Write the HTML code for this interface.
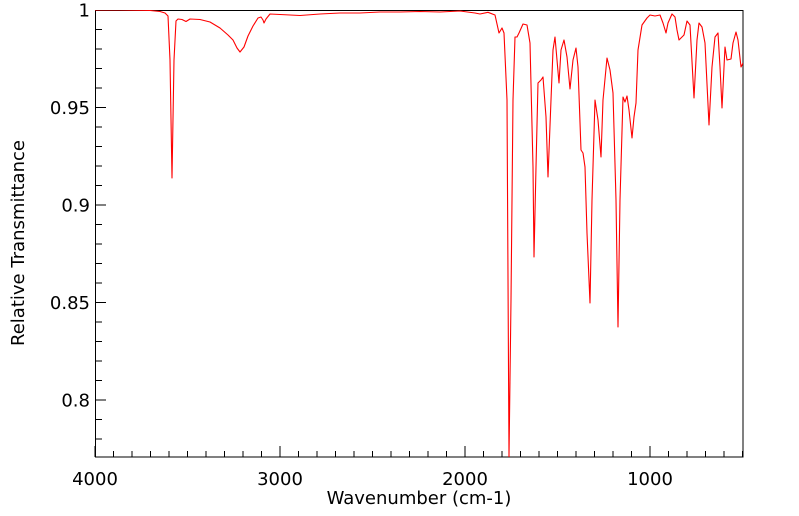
<!DOCTYPE html>
<html><head><meta charset="utf-8"><style>
html,body{margin:0;padding:0;background:#fff;}
svg{display:block;font-family:"DejaVu Sans","Liberation Sans",sans-serif;}
</style></head><body>
<svg width="799" height="516" viewBox="0 0 799 516" xmlns="http://www.w3.org/2000/svg">
<defs><clipPath id="c"><rect x="95" y="10" width="648" height="447"/></clipPath></defs>
<rect x="95.5" y="10.5" width="647.5" height="446.5" fill="none" stroke="#000" stroke-width="1"/>
<g stroke="#000" stroke-width="1">
<line x1="95" y1="29.5" x2="102" y2="29.5"/><line x1="95" y1="49" x2="102" y2="49"/><line x1="95" y1="68.5" x2="102" y2="68.5"/><line x1="95" y1="88" x2="102" y2="88"/>
<line x1="95" y1="107.5" x2="106" y2="107.5"/>
<line x1="95" y1="127" x2="102" y2="127"/><line x1="95" y1="146.5" x2="102" y2="146.5"/><line x1="95" y1="166" x2="102" y2="166"/><line x1="95" y1="185.5" x2="102" y2="185.5"/>
<line x1="95" y1="205" x2="106" y2="205"/>
<line x1="95" y1="224.5" x2="102" y2="224.5"/><line x1="95" y1="244" x2="102" y2="244"/><line x1="95" y1="263.5" x2="102" y2="263.5"/><line x1="95" y1="283" x2="102" y2="283"/>
<line x1="95" y1="302.5" x2="106" y2="302.5"/>
<line x1="95" y1="322" x2="102" y2="322"/><line x1="95" y1="341.5" x2="102" y2="341.5"/><line x1="95" y1="361" x2="102" y2="361"/><line x1="95" y1="380.5" x2="102" y2="380.5"/>
<line x1="95" y1="400" x2="106" y2="400"/>
<line x1="95" y1="419.5" x2="102" y2="419.5"/><line x1="95" y1="439" x2="102" y2="439"/>
</g>
<g stroke="#000" stroke-width="1" id="xt"></g>
<g font-size="18" fill="#000" text-anchor="end">
<text x="90" y="16.5">1</text>
<text x="90" y="114">0.95</text>
<text x="90" y="211.5">0.9</text>
<text x="90" y="309">0.85</text>
<text x="90" y="406.5">0.8</text>
</g>
<g font-size="18" fill="#000" text-anchor="middle">
<text x="95" y="485">4000</text>
<text x="280" y="485">3000</text>
<text x="465" y="485">2000</text>
<text x="650" y="485">1000</text>
<text x="419" y="504">Wavenumber (cm-1)</text>
<text transform="translate(24,243) rotate(-90)">Relative Transmittance</text>
</g>
<polyline clip-path="url(#c)" fill="none" stroke="#f00" stroke-width="1.1" stroke-linejoin="round" points="
95,10 120,10 150,10.5 160,11.5 165,13 168,16 170,60 172,178 174,60 176,21 178,19 182,19.5 186,21.5 190,19 200,19.5 210,22 220,28 228,35 233,40 237,48 240,52 244,47 248,36 253,26 258,18 261,17 263,20 264,23 266,19 270,14 280,14.5 300,15.5 320,14 340,13 360,13 380,12 400,12 420,11.5 440,12 460,11 475,13 480,14 488,12.3 495,15 499,33 502,28 504,33 507,100 509,457 511,300 513,100 515,37 517,37 519,33 523,24 527,25 530,43 533,167 534,257 536,167 538,83 541,80 543,77 546,117 548,177 551,100 553,50 555,37 559,83 561,50 564,40 567,57 570,89 573,60 576,48 578,67 581,150 583,153 585,167 587,233 590,303 592,200 595,100 598,120 601,157 603,100 607,58 610,70 613,93 616,200 618,327 620,200 623,97 625,102 627,96 629,110 632,138 634,117 636,103 638,50 642,25 647,18 650,15 655,16 660,15 663,23 666,33 668,23 672,14 675,17 677,30 679,40 682,37 684,35 687,21 690,25 694,98 697,40 699,23 702,27 705,43 709,125 712,67 715,37 718,33 720,67 722,108 725,47 727,60 731,59 733,43 736,32 738,40 741,67 743,63"/>
</svg>
<script>
(function(){var g=document.getElementById('xt');var s='';for(var i=0;i<=35;i++){var x=95+i*18.5;var big=(i%10==0);s+='<line x1="'+x+'" y1="457" x2="'+x+'" y2="'+(big?446:451)+'"/>';}g.innerHTML=s;})();
</script>
</body></html>
